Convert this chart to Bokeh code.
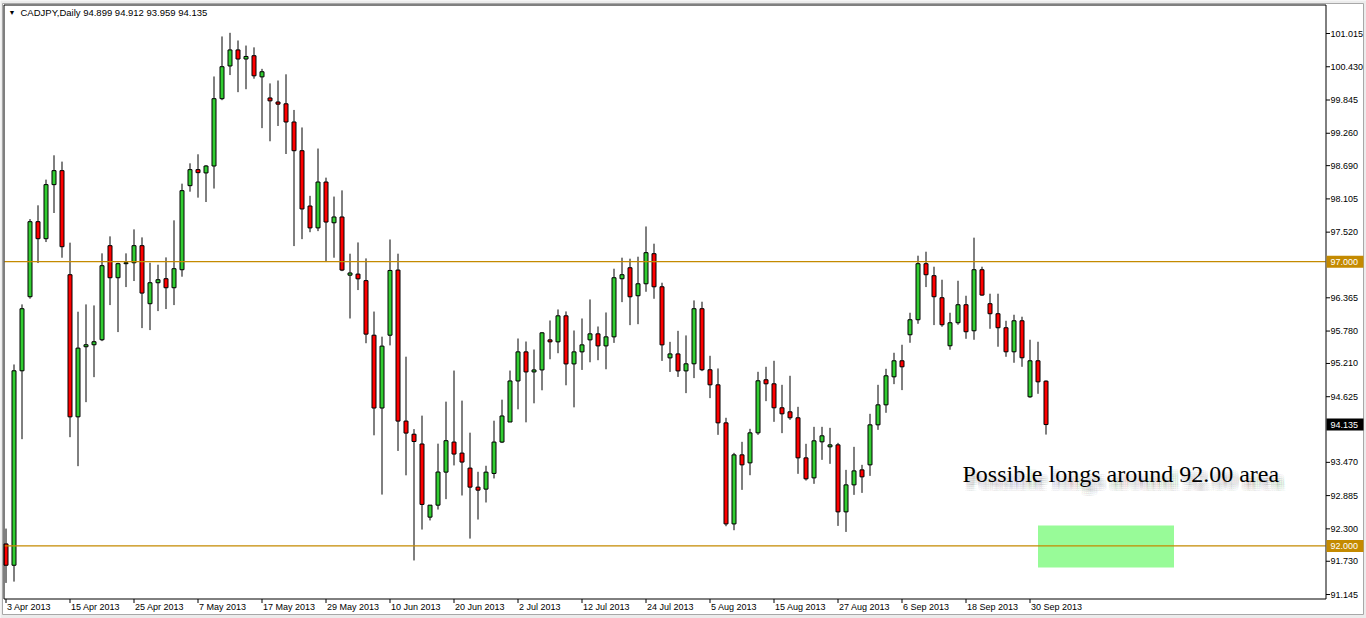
import numpy as np
from bokeh.plotting import figure
from bokeh.models import Range1d, ColumnDataSource
from bokeh.core.properties import value
from bokeh.embed import file_html
from bokeh.resources import INLINE

# ---------------- data ----------------
symbol = "CADJPY,Daily"

opens = [92.035, 91.660, 95.081, 96.384, 97.704, 97.405, 98.356, 98.602, 96.771, 94.271,
         95.504, 95.539, 95.627, 97.282, 96.718, 96.965, 96.982, 97.282, 96.261, 96.630,
         96.701, 96.542, 96.859, 98.338, 98.620, 98.562, 98.684, 99.868, 100.444, 100.726,
         100.566, 100.624, 100.252, 99.881, 99.810, 99.778, 99.458, 98.953, 97.980, 97.595,
         98.402, 97.685, 97.787, 96.763, 96.782, 96.667, 95.707, 94.426, 95.707, 96.853,
         94.196, 93.965, 93.793, 92.506, 92.717, 93.298, 93.827, 93.633, 93.369, 93.034,
         92.999, 93.275, 93.827, 94.180, 94.902, 95.414, 95.061, 95.096, 95.625, 95.590,
         96.048, 95.202, 95.414, 95.625, 95.731, 95.519, 95.678, 96.700, 96.894, 96.401,
         96.612, 97.141, 96.559, 95.308, 95.378, 95.079, 95.204, 96.173, 95.099, 94.834,
         94.165, 92.387, 93.602, 93.461, 93.989, 94.923, 94.852, 94.430, 94.359, 94.254,
         93.549, 93.197, 93.831, 93.743, 93.778, 92.599, 93.074, 93.338, 93.426, 94.130,
         94.482, 94.975, 95.257, 95.715, 95.979, 96.965, 96.754, 96.366, 95.521, 95.926,
         96.243, 95.785, 96.859, 96.261, 96.085, 95.838, 95.415, 95.961, 94.623, 95.257,
         94.899]
highs = [92.305, 95.192, 96.249, 97.750, 97.992, 98.444, 98.872, 98.761, 97.335, 96.120,
         96.249, 96.231, 97.147, 97.446, 96.982, 97.147, 97.569, 97.428, 96.982, 96.947,
         97.076, 97.728, 98.373, 98.731, 98.890, 98.700, 100.259, 100.963, 101.027, 100.892,
         100.803, 100.771, 100.393, 100.137, 100.188, 100.297, 99.670, 99.362, 98.159, 98.991,
         98.479, 98.146, 98.255, 97.141, 97.339, 97.058, 96.123, 95.681, 97.391, 97.141,
         95.329, 94.055, 94.292, 92.717, 93.799, 94.538, 95.085, 94.556, 93.992, 93.304,
         93.410, 94.203, 94.573, 95.085, 95.649, 95.596, 95.455, 95.760, 95.966, 96.160,
         96.125, 95.790, 96.001, 96.336, 95.860, 96.107, 96.877, 97.071, 97.053, 97.088,
         97.620, 97.317, 96.630, 95.590, 95.784, 95.703, 96.319, 96.296, 95.345, 95.122,
         94.254, 93.637, 93.831, 94.060, 95.063, 95.151, 95.257, 94.834, 94.993, 94.447,
         93.796, 94.095, 94.095, 94.077, 93.813, 93.338, 93.743, 93.426, 94.324, 94.834,
         95.116, 95.398, 95.539, 96.102, 97.106, 97.176, 96.912, 96.683, 96.102, 96.665,
         96.401, 97.423, 96.912, 96.437, 96.437, 95.961, 96.067, 96.032, 95.627, 95.592,
         94.912]
lows = [91.349, 91.372, 93.878, 96.350, 96.977, 97.346, 97.857, 97.070, 93.913, 93.403,
        94.529, 94.969, 95.603, 96.237, 95.762, 96.554, 96.660, 95.832, 95.797, 96.131,
        96.167, 96.237, 96.736, 98.232, 98.127, 98.050, 98.287, 99.842, 100.284, 99.983,
        100.035, 100.220, 99.350, 99.119, 99.388, 98.895, 97.275, 97.397, 97.519, 97.538,
        97.000, 97.070, 96.834, 96.001, 96.501, 95.566, 93.946, 92.903, 95.528, 93.671,
        93.242, 91.744, 92.288, 92.448, 92.640, 92.823, 93.416, 92.887, 92.129, 92.464,
        92.764, 93.187, 93.810, 94.180, 94.403, 94.174, 94.509, 94.738, 95.284, 95.390,
        94.826, 94.438, 95.096, 95.231, 95.267, 95.108, 95.572, 96.289, 95.884, 95.901,
        96.471, 96.348, 95.255, 95.061, 94.973, 94.688, 94.952, 95.075, 94.600, 93.954,
        92.346, 92.276, 92.986, 93.244, 93.954, 94.547, 94.183, 93.984, 94.218, 93.268,
        93.150, 93.092, 93.514, 93.444, 92.352, 92.246, 92.898, 92.933, 93.232, 94.042,
        94.342, 94.846, 94.741, 95.574, 95.908, 96.554, 95.885, 95.856, 95.451, 95.891,
        95.644, 95.627, 96.401, 95.820, 95.504, 95.327, 95.222, 95.151, 94.606, 94.676,
        93.959]
closes = [91.660, 95.081, 96.173, 97.704, 97.405, 98.356, 98.602, 97.264, 94.271, 95.480,
          95.539, 95.592, 96.930, 96.718, 96.965, 96.982, 97.282, 96.448, 96.630, 96.683,
          96.542, 96.877, 98.250, 98.620, 98.567, 98.684, 99.868, 100.431, 100.726, 100.566,
          100.611, 100.271, 100.342, 99.830, 99.772, 99.458, 98.953, 97.928, 97.595, 98.402,
          97.698, 97.787, 96.853, 96.802, 96.699, 95.726, 94.426, 95.515, 96.846, 94.196,
          93.985, 93.837, 92.730, 92.717, 93.300, 93.851, 93.616, 93.475, 93.034, 92.981,
          93.298, 93.827, 94.286, 94.902, 95.414, 95.061, 95.096, 95.749, 95.590, 96.048,
          95.202, 95.414, 95.537, 95.731, 95.519, 95.678, 96.718, 96.771, 96.383, 96.612,
          97.159, 96.559, 95.537, 95.378, 95.079, 95.204, 96.173, 95.099, 94.834, 94.165,
          92.387, 93.602, 93.426, 93.989, 94.905, 94.852, 94.430, 94.324, 94.254, 93.549,
          93.180, 93.849, 93.937, 93.778, 92.599, 93.074, 93.320, 93.215, 94.130, 94.482,
          94.993, 95.257, 95.151, 95.979, 96.965, 96.771, 96.384, 95.891, 95.926, 96.243,
          95.768, 96.859, 96.413, 96.085, 95.838, 95.415, 95.961, 95.310, 95.257, 94.887,
          94.135]

date_labels = ["3 Apr 2013", "15 Apr 2013", "25 Apr 2013", "7 May 2013", "17 May 2013",
               "29 May 2013", "10 Jun 2013", "20 Jun 2013", "2 Jul 2013", "12 Jul 2013",
               "24 Jul 2013", "5 Aug 2013", "15 Aug 2013", "27 Aug 2013", "6 Sep 2013",
               "18 Sep 2013", "30 Sep 2013"]
date_step = 8  # bars between date labels

price_ticks = [101.015, 100.430, 99.845, 99.260, 98.690, 98.105, 97.520, 96.365,
               95.780, 95.210, 94.625, 93.470, 92.885, 92.300, 91.730, 91.145]

levels = [97.000, 92.000]
zone_bars = [129, 146]
zone_prices = [91.62, 92.36]
note = "Possible longs around 92.00 area"

# ---------------- layout helpers (canvas pixel -> data coordinate) ----------------
W, H = 1366, 618
def X(px):
    return (px - 5.5) / 8.0                     # 8 px per daily bar
def Y(py):
    return 101.015 - (py - 33.0) / 56.84        # 56.84 px per yen

FONT = "Liberation Sans"
GOLD = "#C48A00"
GREEN = "#32CD32"
RED = "#FF0000"

p = figure(width=W, height=H,
           x_range=Range1d(X(0), X(W)), y_range=Range1d(Y(H), Y(0)),
           output_backend="svg", toolbar_location=None,
           x_axis_location=None, y_axis_location=None,
           min_border_left=0, min_border_right=0, min_border_top=0, min_border_bottom=0,
           background_fill_color="#ececec", border_fill_color="#ececec",
           outline_line_color=None)
p.xgrid.visible = False
p.ygrid.visible = False

# window body
p.quad(left=[X(2)], right=[X(1363)], top=[Y(3)], bottom=[Y(614)],
       fill_color="white", line_color="#a8a8a8", line_width=1)

# target zone
p.quad(left=[zone_bars[0]], right=[zone_bars[1]],
       bottom=[zone_prices[0]], top=[zone_prices[1]],
       fill_color="#98FB98", line_color=None)

# candles
o = np.array(opens); h = np.array(highs); l = np.array(lows); c = np.array(closes)
idx = np.arange(len(o))
src = ColumnDataSource(dict(
    x=idx, h=h, l=l,
    top=np.maximum(o, c), bottom=np.minimum(o, c),
    color=np.where(c >= o, GREEN, RED),
))
p.segment(x0="x", y0="l", x1="x", y1="h", source=src, line_color="black", line_width=1)
p.vbar(x="x", width=0.5, top="top", bottom="bottom", source=src,
       fill_color="color", line_color="black", line_width=1)

# horizontal levels (stop at the price axis)
p.segment(x0=[X(4)] * len(levels), x1=[X(1325)] * len(levels), y0=levels, y1=levels,
          line_color=GOLD, line_width=1.3)

# chart frame / axis lines
fx0, fx1, fy0, fy1 = X(3.5), X(1325.5), Y(4.5), Y(598.5)
p.segment(x0=[fx0, fx0, fx1, fx0], y0=[fy0, fy0, fy0, fy1],
          x1=[fx0, fx1, fx1, fx1], y1=[fy1, fy0, fy1, fy1],
          line_color="black", line_width=1)

# price axis: ticks + labels
n = len(price_ticks)
p.segment(x0=[fx1] * n, x1=[X(1329.5)] * n, y0=price_ticks, y1=price_ticks,
          line_color="black", line_width=1)
p.text(x=[X(1330)] * n, y=price_ticks, text=[f"{v:.3f}" for v in price_ticks],
       text_font=value(FONT), text_font_size=value("9px"), text_color="black",
       text_align="left", text_baseline="middle")

# time axis: ticks + labels
tick_x = [i * date_step for i in range(len(date_labels))]
m = len(tick_x)
p.segment(x0=tick_x, x1=tick_x, y0=[fy1] * m, y1=[Y(602.5)] * m,
          line_color="black", line_width=1)
p.text(x=[t + 0.12 for t in tick_x], y=[Y(606.5)] * m, text=date_labels,
       text_font=value(FONT), text_font_size=value("9px"), text_color="black",
       text_align="left", text_baseline="middle")

# price boxes on the axis
box_vals = levels + [closes[-1]]
box_cols = [GOLD] * len(levels) + ["black"]
half = 6.0 / 56.84
p.quad(left=[X(1326)] * 3, right=[X(1363)] * 3,
       top=[v + half for v in box_vals], bottom=[v - half for v in box_vals],
       fill_color=box_cols, line_color=None)
p.text(x=[X(1330)] * 3, y=box_vals, text=[f"{v:.3f}" for v in box_vals],
       text_font=value(FONT), text_font_size=value("9px"), text_color="white",
       text_align="left", text_baseline="middle")

# header
p.text(x=[X(8)], y=[Y(12)], text=["\u25bc"], text_font=value(FONT),
       text_font_size=value("7px"), text_color="black",
       text_align="left", text_baseline="middle")
header = f"{symbol}  {opens[-1]:.3f} {highs[-1]:.3f} {lows[-1]:.3f} {closes[-1]:.3f}"
p.text(x=[X(20)], y=[Y(12)], text=[header], text_font=value(FONT),
       text_font_size=value("9.5px"), text_color="black",
       text_align="left", text_baseline="middle")

# annotation with a soft drop shadow
for dx in (1.0, 3.0, 5.0, 7.0):
    for dy in (3.0, 5.0, 7.0, 9.0):
        p.text(x=[X(962 + dx)], y=[Y(473 + dy)], text=[note],
               text_font=value("Liberation Serif"), text_font_size=value("24px"),
               text_color="#303030", text_alpha=0.045,
               text_align="left", text_baseline="alphabetic")
p.text(x=[X(962)], y=[Y(473)], text=[note],
       text_font=value("Liberation Serif"), text_font_size=value("24px"),
       text_color="black", text_align="left", text_baseline="alphabetic")

open("out.html", "w").write(file_html(p, INLINE))
